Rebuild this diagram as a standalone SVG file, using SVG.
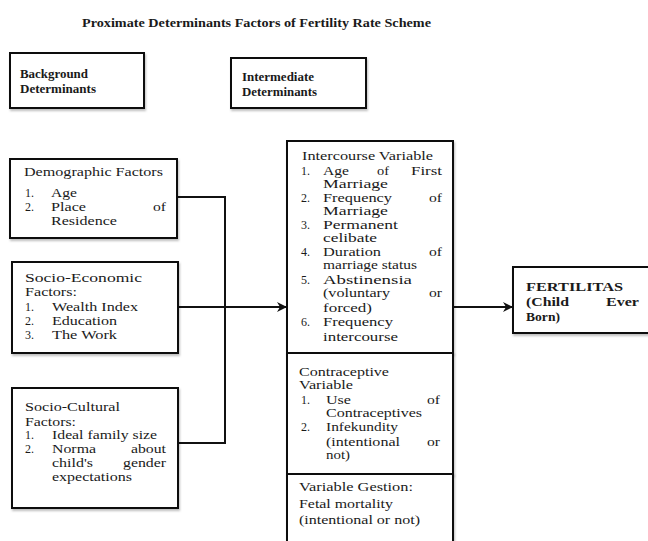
<svg xmlns="http://www.w3.org/2000/svg" width="648" height="541" viewBox="0 0 648 541">
<defs>
<style>
.box{fill:#fff;stroke:#111;stroke-width:2;filter:url(#sh)}
.t{font-family:"Liberation Serif","Times New Roman",serif;font-size:12px;fill:#1a1a1a}
.b{font-family:"Liberation Serif","Times New Roman",serif;font-size:12px;font-weight:bold;fill:#1a1a1a}
.e{text-anchor:end}
.c{fill:none;stroke:#111;stroke-width:2}
</style>
<filter id="sh" x="-10%" y="-10%" width="120%" height="130%">
<feDropShadow dx="1" dy="2" stdDeviation="1" flood-color="#000" flood-opacity="0.25"/>
</filter>
<marker id="ar" viewBox="0 0 10 10" refX="9" refY="5" markerWidth="5" markerHeight="5" orient="auto" markerUnits="strokeWidth">
<path d="M0,0 L10,5 L0,10 L3,5 z" fill="#111"/>
</marker>
</defs>
<rect width="648" height="541" fill="#fff"/>

<g id="title">
<text class="b" x="82" y="27" font-size="12.5" textLength="349" lengthAdjust="spacingAndGlyphs">Proximate Determinants Factors of Fertility Rate Scheme</text>
</g>

<g id="connectors">
<polyline class="c" points="177,197 225,197 225,443 178,443"/>
<line class="c" x1="178" y1="307" x2="286" y2="307" marker-end="url(#ar)"/>
<line class="c" x1="453" y1="307" x2="512" y2="307" marker-end="url(#ar)"/>
</g>

<g id="background-determinants">
<rect class="box" x="10" y="53" width="134" height="55"/>
<text class="b" x="20" y="78" textLength="68" lengthAdjust="spacingAndGlyphs">Background</text>
<text class="b" x="20" y="93" textLength="76" lengthAdjust="spacingAndGlyphs">Determinants</text>
</g>

<g id="intermediate-determinants">
<rect class="box" x="231" y="58" width="135" height="50"/>
<text class="b" x="242" y="81" textLength="72" lengthAdjust="spacingAndGlyphs">Intermediate</text>
<text class="b" x="242" y="96" textLength="75" lengthAdjust="spacingAndGlyphs">Determinants</text>
</g>

<g id="demographic-factors">
<rect class="box" x="10" y="159" width="167" height="79"/>
<text class="t" x="24" y="176" textLength="139" lengthAdjust="spacingAndGlyphs">Demographic Factors</text>
<text class="t" x="25" y="197" textLength="9" lengthAdjust="spacingAndGlyphs">1.</text>
<text class="t" x="51" y="197" textLength="26" lengthAdjust="spacingAndGlyphs">Age</text>
<text class="t" x="25" y="211" textLength="9" lengthAdjust="spacingAndGlyphs">2.</text>
<text class="t" x="51" y="211" textLength="35" lengthAdjust="spacingAndGlyphs">Place</text>
<text class="t e" x="166" y="211" textLength="13" lengthAdjust="spacingAndGlyphs">of</text>
<text class="t" x="51" y="225" textLength="66" lengthAdjust="spacingAndGlyphs">Residence</text>
</g>

<g id="socio-economic-factors">
<rect class="box" x="12" y="262" width="166" height="91"/>
<text class="t" x="25" y="282" textLength="117" lengthAdjust="spacingAndGlyphs">Socio-Economic</text>
<text class="t" x="25" y="296" textLength="52" lengthAdjust="spacingAndGlyphs">Factors:</text>
<text class="t" x="25" y="311" textLength="9" lengthAdjust="spacingAndGlyphs">1.</text>
<text class="t" x="52" y="311" textLength="86" lengthAdjust="spacingAndGlyphs">Wealth Index</text>
<text class="t" x="25" y="325" textLength="9" lengthAdjust="spacingAndGlyphs">2.</text>
<text class="t" x="52" y="325" textLength="65" lengthAdjust="spacingAndGlyphs">Education</text>
<text class="t" x="25" y="339" textLength="9" lengthAdjust="spacingAndGlyphs">3.</text>
<text class="t" x="52" y="339" textLength="65" lengthAdjust="spacingAndGlyphs">The Work</text>
</g>

<g id="socio-cultural-factors">
<rect class="box" x="12" y="388" width="166" height="120"/>
<text class="t" x="25" y="411" textLength="95" lengthAdjust="spacingAndGlyphs">Socio-Cultural</text>
<text class="t" x="25" y="426" textLength="51" lengthAdjust="spacingAndGlyphs">Factors:</text>
<text class="t" x="25" y="439" textLength="9" lengthAdjust="spacingAndGlyphs">1.</text>
<text class="t" x="52" y="439" textLength="105" lengthAdjust="spacingAndGlyphs">Ideal family size</text>
<text class="t" x="25" y="453" textLength="9" lengthAdjust="spacingAndGlyphs">2.</text>
<text class="t" x="52" y="453" textLength="44" lengthAdjust="spacingAndGlyphs">Norma</text>
<text class="t e" x="166" y="453" textLength="35" lengthAdjust="spacingAndGlyphs">about</text>
<text class="t" x="52" y="467" textLength="41" lengthAdjust="spacingAndGlyphs">child's</text>
<text class="t e" x="166" y="467" textLength="43" lengthAdjust="spacingAndGlyphs">gender</text>
<text class="t" x="52" y="481" textLength="80" lengthAdjust="spacingAndGlyphs">expectations</text>
</g>

<g id="intercourse-variable">
<rect class="box" x="287" y="141" width="166" height="212"/>
<text class="t" x="302" y="160" textLength="131" lengthAdjust="spacingAndGlyphs">Intercourse Variable</text>
<text class="t" x="301" y="175" textLength="9" lengthAdjust="spacingAndGlyphs">1.</text>
<text class="t" x="323" y="175" textLength="26" lengthAdjust="spacingAndGlyphs">Age</text>
<text class="t" x="377" y="175" textLength="12" lengthAdjust="spacingAndGlyphs">of</text>
<text class="t e" x="442" y="175" textLength="31" lengthAdjust="spacingAndGlyphs">First</text>
<text class="t" x="323" y="188" textLength="65" lengthAdjust="spacingAndGlyphs">Marriage</text>
<text class="t" x="301" y="202" textLength="9" lengthAdjust="spacingAndGlyphs">2.</text>
<text class="t" x="323" y="202" textLength="69" lengthAdjust="spacingAndGlyphs">Frequency</text>
<text class="t e" x="442" y="202" textLength="13" lengthAdjust="spacingAndGlyphs">of</text>
<text class="t" x="323" y="215" textLength="65" lengthAdjust="spacingAndGlyphs">Marriage</text>
<text class="t" x="301" y="229" textLength="9" lengthAdjust="spacingAndGlyphs">3.</text>
<text class="t" x="323" y="229" textLength="75" lengthAdjust="spacingAndGlyphs">Permanent</text>
<text class="t" x="323" y="242" textLength="54" lengthAdjust="spacingAndGlyphs">celibate</text>
<text class="t" x="301" y="256" textLength="9" lengthAdjust="spacingAndGlyphs">4.</text>
<text class="t" x="323" y="256" textLength="58" lengthAdjust="spacingAndGlyphs">Duration</text>
<text class="t e" x="442" y="256" textLength="13" lengthAdjust="spacingAndGlyphs">of</text>
<text class="t" x="323" y="269" textLength="94" lengthAdjust="spacingAndGlyphs">marriage status</text>
<text class="t" x="301" y="284" textLength="9" lengthAdjust="spacingAndGlyphs">5.</text>
<text class="t" x="323" y="284" textLength="89" lengthAdjust="spacingAndGlyphs">Abstinensia</text>
<text class="t" x="323" y="297" textLength="67" lengthAdjust="spacingAndGlyphs">(voluntary</text>
<text class="t e" x="442" y="297" textLength="13" lengthAdjust="spacingAndGlyphs">or</text>
<text class="t" x="323" y="312" textLength="49" lengthAdjust="spacingAndGlyphs">forced)</text>
<text class="t" x="301" y="326" textLength="9" lengthAdjust="spacingAndGlyphs">6.</text>
<text class="t" x="323" y="326" textLength="70" lengthAdjust="spacingAndGlyphs">Frequency</text>
<text class="t" x="323" y="341" textLength="75" lengthAdjust="spacingAndGlyphs">intercourse</text>
</g>

<g id="contraceptive-variable">
<rect class="box" x="287" y="353" width="166" height="121"/>
<text class="t" x="299" y="376" textLength="90" lengthAdjust="spacingAndGlyphs">Contraceptive</text>
<text class="t" x="299" y="389" textLength="54" lengthAdjust="spacingAndGlyphs">Variable</text>
<text class="t" x="301" y="404" textLength="9" lengthAdjust="spacingAndGlyphs">1.</text>
<text class="t" x="326" y="404" textLength="25" lengthAdjust="spacingAndGlyphs">Use</text>
<text class="t e" x="440" y="404" textLength="13" lengthAdjust="spacingAndGlyphs">of</text>
<text class="t" x="326" y="417" textLength="96" lengthAdjust="spacingAndGlyphs">Contraceptives</text>
<text class="t" x="301" y="431" textLength="9" lengthAdjust="spacingAndGlyphs">2.</text>
<text class="t" x="326" y="431" textLength="72" lengthAdjust="spacingAndGlyphs">Infekundity</text>
<text class="t" x="326" y="446" textLength="74" lengthAdjust="spacingAndGlyphs">(intentional</text>
<text class="t e" x="440" y="446" textLength="13" lengthAdjust="spacingAndGlyphs">or</text>
<text class="t" x="326" y="459" textLength="24" lengthAdjust="spacingAndGlyphs">not)</text>
</g>

<g id="gestation-variable">
<rect class="box" x="287" y="474" width="166" height="80"/>
<text class="t" x="299" y="491" textLength="114" lengthAdjust="spacingAndGlyphs">Variable Gestion:</text>
<text class="t" x="299" y="508" textLength="94" lengthAdjust="spacingAndGlyphs">Fetal mortality</text>
<text class="t" x="299" y="524" textLength="121" lengthAdjust="spacingAndGlyphs">(intentional or not)</text>
</g>

<g id="fertilitas">
<rect class="box" x="513" y="267" width="150" height="66"/>
<text class="b" x="526" y="291" textLength="97" lengthAdjust="spacingAndGlyphs">FERTILITAS</text>
<text class="b" x="526" y="306" textLength="43" lengthAdjust="spacingAndGlyphs">(Child</text>
<text class="b e" x="639" y="306" textLength="33" lengthAdjust="spacingAndGlyphs">Ever</text>
<text class="b" x="526" y="321" textLength="34" lengthAdjust="spacingAndGlyphs">Born)</text>
</g>
</svg>
